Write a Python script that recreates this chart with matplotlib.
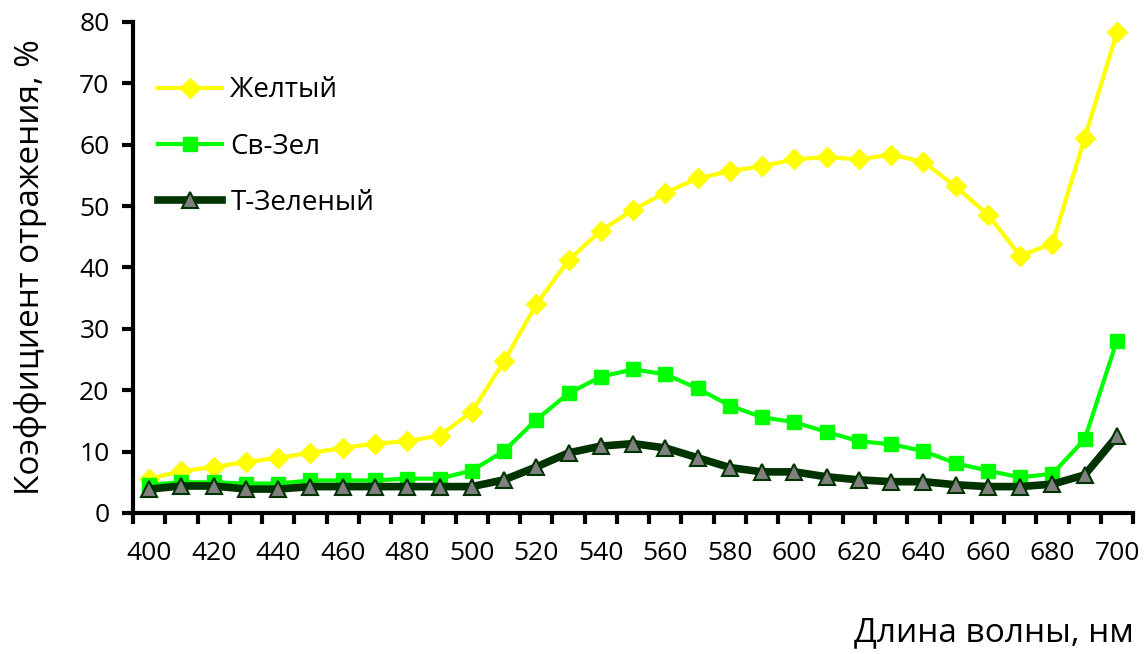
import matplotlib
matplotlib.use("Agg")
import matplotlib.pyplot as plt
import numpy as np

plt.rcParams['font.family'] = ['Open Sans', 'DejaVu Sans']

wavelengths = list(range(400, 701, 10))

yellow = [5.6, 6.8, 7.5, 8.3, 9.0, 9.8, 10.6, 11.3, 11.7, 12.6,
          16.5, 24.7, 34.0, 41.2, 46.0, 49.4, 52.2, 54.5, 55.7, 56.5,
          57.6, 58.0, 57.6, 58.4, 57.2, 53.2, 48.6, 41.9, 43.9, 61.1, 78.3]
light_green = [4.6, 5.0, 5.0, 4.8, 4.8, 5.3, 5.3, 5.3, 5.6, 5.6,
               6.9, 10.1, 15.2, 19.5, 22.2, 23.4, 22.6, 20.3, 17.5, 15.6,
               14.8, 13.2, 11.7, 11.2, 10.1, 8.1, 6.9, 5.8, 6.4, 12.0, 28.1]
dark_green = [3.9, 4.4, 4.4, 3.9, 3.9, 4.3, 4.3, 4.3, 4.3, 4.3,
              4.3, 5.4, 7.5, 9.8, 10.9, 11.3, 10.6, 9.0, 7.4, 6.7,
              6.7, 5.9, 5.4, 5.1, 5.1, 4.6, 4.3, 4.3, 4.7, 6.2, 12.5]

series_names = ["Желтый", "Св-Зел", "Т-Зеленый"]

fig = plt.figure(figsize=(11.48, 6.54), dpi=100)
ax = fig.add_axes([0.1159, 0.2156, 0.8711, 0.7508])

x = np.arange(len(wavelengths))
ax.plot(x, yellow, color="#FFFF00", lw=3, marker="D", ms=10,
        mfc="#FFFF00", mec="#FFFF00", label=series_names[0])
ax.plot(x, light_green, color="#00FF00", lw=3, marker="s", ms=10,
        mfc="#00FF00", mec="#00FF00", label=series_names[1])
ax.plot(x, dark_green, color="#003300", lw=5.5, marker="^", ms=11,
        mfc="#808080", mec="#003300", mew=1.5, label=series_names[2])

ax.set_xlim(-0.5, len(wavelengths) - 0.5)
ax.set_ylim(0, 80)
ax.set_yticks(range(0, 81, 10))

# category axis: tick marks between categories, labels every other point
ax.set_xticks(np.arange(-0.5, len(wavelengths), 1.0))
ax.set_xticklabels([])
ax.set_xticks(x[::2], minor=True)
ax.set_xticklabels([str(w) for w in wavelengths[::2]], minor=True)
ax.tick_params(axis="x", which="major", length=8, width=3, direction="out")
ax.tick_params(axis="x", which="minor", length=0, pad=20, labelsize=19)
ax.tick_params(axis="y", length=8, width=3, direction="out", pad=9, labelsize=19)

for side in ("top", "right"):
    ax.spines[side].set_visible(False)
for side in ("left", "bottom"):
    ax.spines[side].set_linewidth(3)

ax.set_ylabel("Коэффициент отражения, %", fontsize=24, labelpad=23)
fig.text(0.988, 0.008, "Длина волны, нм", fontsize=24, ha="right", va="bottom")

ax.legend(loc="upper left", bbox_to_anchor=(0.0, 0.94), frameon=False,
          fontsize=20, handlelength=2.3, handletextpad=0.3, labelspacing=1.02)

fig.savefig("out.png", dpi=100)
